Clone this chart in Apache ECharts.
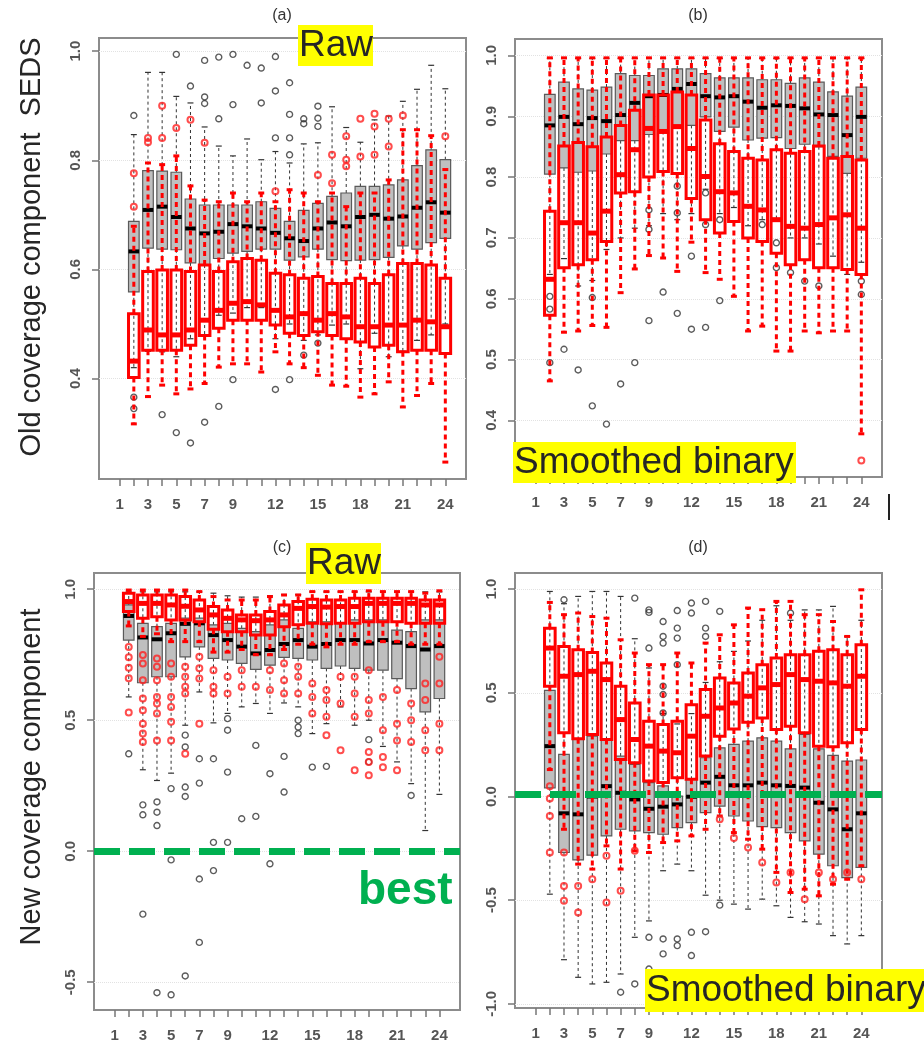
<!DOCTYPE html>
<html>
<head>
<meta charset="utf-8">
<title>Coverage components by lag</title>
<script src="https://cdn.jsdelivr.net/npm/echarts@6/dist/echarts.min.js"></script>
<style>
  html, body { margin: 0; padding: 0; background: #fff; }
  #chart { width: 924px; height: 1047px; }
</style>
</head>
<body>
<div id="chart"></div>
<script>
// lags that have a box (lag 1 is empty in every panel)
const lags = [2, 3, 4, 5, 6, 7, 8, 9, 10, 11, 12, 13, 14, 15, 16, 17, 18, 19, 20, 21, 22, 23, 24];
const xTicks = [1, 2, 3, 4, 5, 6, 7, 8, 9, 10, 11, 12, 13, 14, 15, 16, 17, 18, 19, 20, 21, 22, 23, 24];
const xTickLabels = [1, 3, 5, 7, 9, 12, 15, 18, 21, 24];

// box rows: [lower whisker, Q1, median, Q3, upper whisker]
// (a) old coverage, raw
const aTicks = [0.4, 0.6, 0.8, 1.0];
const aGray = [
  [0.42, 0.559, 0.633, 0.688, 0.847], [0.45, 0.639, 0.709, 0.781, 0.961], [0.449, 0.637, 0.715, 0.780, 0.961],
  [0.44, 0.636, 0.696, 0.778, 0.917], [0.473, 0.612, 0.675, 0.729, 0.905], [0.48, 0.608, 0.666, 0.718, 0.861],
  [0.516, 0.620, 0.669, 0.718, 0.826], [0.52, 0.630, 0.683, 0.718, 0.808], [0.53, 0.633, 0.679, 0.718, 0.839],
  [0.53, 0.637, 0.675, 0.724, 0.801], [0.473, 0.637, 0.667, 0.712, 0.816], [0.50, 0.617, 0.657, 0.688, 0.795],
  [0.47, 0.623, 0.652, 0.708, 0.830], [0.48, 0.637, 0.675, 0.721, 0.832], [0.498, 0.618, 0.686, 0.734, 0.898],
  [0.50, 0.616, 0.679, 0.740, 0.860], [0.418, 0.617, 0.696, 0.752, 0.833], [0.483, 0.618, 0.700, 0.752, 0.874],
  [0.44, 0.622, 0.693, 0.755, 0.881], [0.45, 0.643, 0.697, 0.764, 0.908], [0.47, 0.637, 0.713, 0.790, 0.930],
  [0.48, 0.649, 0.723, 0.819, 0.974], [0.50, 0.657, 0.704, 0.801, 0.931]
];
const aRed = [
  [0.317, 0.402, 0.432, 0.519, 0.679], [0.367, 0.452, 0.489, 0.596, 0.795], [0.388, 0.452, 0.480, 0.599, 0.792],
  [0.372, 0.452, 0.480, 0.599, 0.808], [0.381, 0.461, 0.489, 0.596, 0.753], [0.391, 0.479, 0.507, 0.608, 0.727],
  [0.421, 0.492, 0.525, 0.596, 0.724], [0.427, 0.507, 0.538, 0.614, 0.740], [0.427, 0.507, 0.541, 0.620, 0.724],
  [0.412, 0.507, 0.535, 0.617, 0.740], [0.449, 0.498, 0.525, 0.593, 0.724], [0.427, 0.483, 0.513, 0.590, 0.746],
  [0.420, 0.479, 0.519, 0.584, 0.740], [0.406, 0.486, 0.507, 0.587, 0.724], [0.388, 0.479, 0.519, 0.574, 0.740],
  [0.386, 0.473, 0.513, 0.574, 0.715], [0.366, 0.467, 0.495, 0.584, 0.740], [0.372, 0.458, 0.495, 0.574, 0.740],
  [0.394, 0.461, 0.498, 0.590, 0.764], [0.348, 0.449, 0.498, 0.611, 0.856], [0.369, 0.452, 0.507, 0.611, 0.856],
  [0.391, 0.452, 0.504, 0.608, 0.845], [0.247, 0.446, 0.495, 0.584, 0.783]
];
const aGrayOut = [
  [2, 0.882], [2, 0.366], [2, 0.345], [4, 0.334], [5, 0.994], [5, 0.301], [6, 0.936], [6, 0.282],
  [7, 0.983], [7, 0.916], [7, 0.904], [7, 0.320], [8, 0.989], [8, 0.876], [8, 0.349], [9, 0.994],
  [9, 0.902], [9, 0.398], [10, 0.974], [11, 0.969], [11, 0.905], [12, 0.990], [12, 0.927], [12, 0.841],
  [12, 0.380], [13, 0.942], [13, 0.884], [13, 0.841], [13, 0.810], [13, 0.398], [14, 0.876], [14, 0.867],
  [14, 0.443], [15, 0.899], [15, 0.877], [15, 0.862], [15, 0.465]
];
const aRedOut = [
  [2, 0.776], [2, 0.715], [3, 0.841], [3, 0.833], [4, 0.900], [4, 0.841], [5, 0.859], [6, 0.874],
  [7, 0.832], [12, 0.743], [15, 0.773], [16, 0.810], [16, 0.758], [17, 0.844], [17, 0.801], [17, 0.789],
  [18, 0.876], [18, 0.807], [19, 0.885], [19, 0.862], [19, 0.810], [20, 0.876], [20, 0.825], [21, 0.882],
  [24, 0.844]
];

// (b) old coverage, smoothed binary
const bTicks = [0.4, 0.5, 0.6, 0.7, 0.8, 0.9, 1.0];
const bGray = [
  [0.64, 0.805, 0.885, 0.936, 0.995], [0.666, 0.815, 0.899, 0.956, 0.995], [0.621, 0.808, 0.887, 0.945, 0.995],
  [0.63, 0.81, 0.897, 0.943, 0.995], [0.681, 0.838, 0.892, 0.948, 0.995], [0.70, 0.86, 0.902, 0.970, 0.995],
  [0.716, 0.86, 0.922, 0.967, 0.995], [0.72, 0.87, 0.933, 0.967, 0.995], [0.74, 0.875, 0.935, 0.978, 0.995],
  [0.73, 0.885, 0.945, 0.978, 0.995], [0.74, 0.885, 0.953, 0.978, 0.995], [0.78, 0.899, 0.933, 0.970, 0.995],
  [0.74, 0.875, 0.931, 0.963, 0.995], [0.75, 0.882, 0.933, 0.963, 0.995], [0.72, 0.861, 0.924, 0.963, 0.995],
  [0.73, 0.864, 0.914, 0.960, 0.995], [0.73, 0.865, 0.918, 0.960, 0.995], [0.70, 0.847, 0.917, 0.954, 0.995],
  [0.70, 0.854, 0.913, 0.963, 0.995], [0.69, 0.85, 0.903, 0.956, 0.995], [0.67, 0.834, 0.902, 0.940, 0.995],
  [0.64, 0.806, 0.869, 0.933, 0.995], [0.66, 0.831, 0.899, 0.948, 0.995]
];
const bRed = [
  [0.465, 0.573, 0.632, 0.744, 0.996], [0.545, 0.651, 0.725, 0.851, 0.996], [0.547, 0.656, 0.725, 0.857, 0.996],
  [0.556, 0.664, 0.708, 0.85, 0.996], [0.553, 0.694, 0.744, 0.866, 0.996], [0.61, 0.774, 0.804, 0.885, 0.996],
  [0.649, 0.776, 0.845, 0.910, 0.996], [0.671, 0.80, 0.88, 0.935, 0.996], [0.667, 0.809, 0.875, 0.935, 0.996],
  [0.645, 0.806, 0.883, 0.940, 0.996], [0.693, 0.765, 0.847, 0.935, 0.996], [0.643, 0.73, 0.801, 0.894, 0.996],
  [0.632, 0.708, 0.776, 0.855, 0.996], [0.604, 0.727, 0.774, 0.842, 0.996], [0.547, 0.70, 0.752, 0.831, 0.996],
  [0.555, 0.694, 0.746, 0.828, 0.996], [0.514, 0.675, 0.73, 0.845, 0.996], [0.514, 0.656, 0.719, 0.839, 0.996],
  [0.547, 0.664, 0.716, 0.842, 0.996], [0.544, 0.651, 0.722, 0.851, 0.996], [0.547, 0.651, 0.733, 0.831, 0.996],
  [0.547, 0.648, 0.738, 0.834, 0.996], [0.378, 0.64, 0.716, 0.828, 0.996]
];
const bGrayOut = [
  [2, 0.604], [2, 0.583], [2, 0.495], [3, 0.517], [4, 0.483], [5, 0.602], [5, 0.424], [6, 0.394],
  [7, 0.46], [8, 0.495], [9, 0.746], [9, 0.714], [9, 0.564], [10, 0.611], [11, 0.785], [11, 0.741],
  [11, 0.576], [12, 0.67], [12, 0.55], [13, 0.774], [13, 0.722], [13, 0.553], [14, 0.73], [14, 0.597],
  [17, 0.722], [18, 0.692], [18, 0.651], [19, 0.643], [20, 0.629], [21, 0.621], [24, 0.629], [24, 0.607]
];
const bRedOut = [[24, 0.334]];

// (c) new coverage, raw
const cTicks = [-0.5, 0.0, 0.5, 1.0];
const cGray = [
  [0.589, 0.806, 0.898, 0.94, 0.99], [0.311, 0.643, 0.816, 0.87, 0.99], [0.27, 0.666, 0.809, 0.857, 0.99],
  [0.298, 0.666, 0.832, 0.87, 0.99], [0.481, 0.742, 0.868, 0.89, 0.99], [0.608, 0.78, 0.87, 0.89, 0.99],
  [0.49, 0.736, 0.825, 0.864, 0.985], [0.526, 0.73, 0.806, 0.87, 0.975], [0.551, 0.717, 0.781, 0.851, 0.97],
  [0.564, 0.694, 0.755, 0.838, 0.97], [0.526, 0.71, 0.768, 0.864, 0.975], [0.566, 0.74, 0.791, 0.883, 0.98],
  [0.551, 0.736, 0.806, 0.851, 0.98], [0.449, 0.73, 0.781, 0.876, 0.99], [0.487, 0.698, 0.791, 0.876, 0.99],
  [0.551, 0.707, 0.806, 0.87, 0.99], [0.481, 0.698, 0.806, 0.883, 0.99], [0.50, 0.691, 0.793, 0.883, 0.99],
  [0.40, 0.691, 0.806, 0.883, 0.99], [0.341, 0.659, 0.796, 0.844, 0.99], [0.258, 0.621, 0.783, 0.838, 0.99],
  [0.079, 0.532, 0.770, 0.883, 0.99], [0.217, 0.583, 0.783, 0.883, 0.99]
];
const cRed = [
  [0.86, 0.915, 0.953, 0.985, 0.997], [0.82, 0.889, 0.946, 0.978, 0.997], [0.83, 0.895, 0.946, 0.978, 0.997],
  [0.80, 0.883, 0.94, 0.978, 0.997], [0.80, 0.883, 0.935, 0.972, 0.997], [0.80, 0.876, 0.921, 0.959, 0.991],
  [0.76, 0.847, 0.902, 0.934, 0.972], [0.76, 0.838, 0.889, 0.921, 0.959], [0.77, 0.838, 0.883, 0.902, 0.959],
  [0.75, 0.825, 0.880, 0.902, 0.959], [0.75, 0.825, 0.883, 0.915, 0.972], [0.77, 0.857, 0.902, 0.94, 0.978],
  [0.79, 0.864, 0.927, 0.953, 0.978], [0.79, 0.870, 0.934, 0.962, 0.991], [0.78, 0.868, 0.932, 0.959, 0.991],
  [0.79, 0.870, 0.934, 0.959, 0.991], [0.79, 0.870, 0.934, 0.966, 0.991], [0.80, 0.876, 0.946, 0.966, 0.994],
  [0.80, 0.876, 0.946, 0.966, 0.991], [0.80, 0.876, 0.946, 0.966, 0.991], [0.79, 0.870, 0.946, 0.966, 0.991],
  [0.79, 0.870, 0.940, 0.959, 0.985], [0.79, 0.870, 0.940, 0.959, 0.994]
];
const cGrayOut = [
  [2, 0.372], [3, 0.177], [3, 0.139], [3, -0.240], [4, 0.188], [4, 0.149], [4, 0.098], [4, -0.540],
  [5, 0.239], [5, -0.033], [5, -0.548], [6, 0.443], [6, 0.398], [6, 0.245], [6, 0.209], [6, -0.476],
  [7, 0.353], [7, 0.260], [7, -0.106], [7, -0.348], [8, 0.353], [8, 0.034], [8, -0.074], [9, 0.506],
  [9, 0.462], [9, 0.302], [9, 0.034], [10, 0.124], [11, 0.404], [11, 0.133], [12, 0.296], [12, -0.048],
  [13, 0.362], [13, 0.226], [14, 0.5], [14, 0.474], [14, 0.449], [15, 0.321], [16, 0.324], [19, 0.426],
  [19, 0.341], [22, 0.213]
];
const cRedOut = [
  [2, 0.78], [2, 0.74], [2, 0.70], [2, 0.66], [2, 0.53], [3, 0.749], [3, 0.717], [3, 0.653], [3, 0.583],
  [3, 0.538], [3, 0.487], [3, 0.449], [3, 0.417], [4, 0.736], [4, 0.704], [4, 0.653], [4, 0.589], [4, 0.564],
  [4, 0.526], [4, 0.423], [5, 0.717], [5, 0.666], [5, 0.589], [5, 0.551], [5, 0.494], [5, 0.423], [6, 0.704],
  [6, 0.666], [6, 0.628], [6, 0.602], [6, 0.372], [7, 0.742], [7, 0.698], [7, 0.659], [7, 0.487], [8, 0.691],
  [8, 0.628], [8, 0.602], [9, 0.666], [9, 0.602], [10, 0.691], [10, 0.628], [11, 0.628], [12, 0.691],
  [12, 0.615], [13, 0.717], [13, 0.653], [13, 0.602], [14, 0.704], [14, 0.666], [14, 0.602], [15, 0.640],
  [15, 0.589], [15, 0.526], [16, 0.615], [16, 0.577], [16, 0.513], [16, 0.443], [17, 0.666], [17, 0.564],
  [17, 0.385], [18, 0.666], [18, 0.602], [18, 0.513], [18, 0.309], [19, 0.691], [19, 0.577], [19, 0.526],
  [19, 0.379], [19, 0.341], [19, 0.290], [20, 0.589], [20, 0.462], [20, 0.360], [20, 0.321], [21, 0.615],
  [21, 0.487], [21, 0.423], [21, 0.309], [22, 0.564], [22, 0.5], [22, 0.417], [23, 0.640], [23, 0.577],
  [23, 0.462], [23, 0.385], [24, 0.742], [24, 0.640], [24, 0.487], [24, 0.385]
];
const cBest = 0.0;

// (d) new coverage, smoothed binary
const dTicks = [-1.0, -0.5, 0.0, 0.5, 1.0];
const dGray = [
  [-0.471, 0.042, 0.243, 0.512, 0.989], [-0.787, -0.270, -0.081, 0.203, 0.93], [-0.872, -0.306, -0.086, 0.275, 0.965],
  [-0.904, -0.283, 0.0, 0.291, 0.989], [-0.896, -0.190, 0.050, 0.275, 0.989], [-0.856, -0.158, 0.018, 0.195, 0.965],
  [-0.679, -0.166, -0.014, 0.155, 0.761], [-0.60, -0.174, -0.059, 0.067, 0.62], [-0.358, -0.182, -0.049, 0.051, 0.40],
  [-0.326, -0.150, -0.038, 0.002, 0.35], [-0.358, -0.126, -0.001, 0.083, 0.40], [-0.476, -0.078, 0.067, 0.187, 0.55],
  [-0.50, -0.046, 0.095, 0.235, 0.65], [-0.519, -0.094, 0.054, 0.251, 0.70], [-0.543, -0.118, 0.054, 0.267, 0.75],
  [-0.495, -0.145, 0.067, 0.283, 0.85], [-0.527, -0.150, 0.054, 0.267, 0.92], [-0.583, -0.174, 0.051, 0.230, 0.85],
  [-0.604, -0.214, 0.043, 0.299, 0.90], [-0.615, -0.278, -0.030, 0.230, 0.90], [-0.671, -0.334, -0.062, 0.198, 0.917],
  [-0.711, -0.391, -0.158, 0.171, 0.772], [-0.671, -0.342, -0.081, 0.176, 0.85]
];
const dRed = [
  [0.13, 0.532, 0.716, 0.812, 0.936], [-0.158, 0.307, 0.580, 0.724, 0.877], [-0.326, 0.278, 0.588, 0.708, 0.885],
  [-0.35, 0.299, 0.604, 0.695, 0.868], [-0.238, 0.275, 0.564, 0.644, 0.860], [-0.35, 0.179, 0.371, 0.532, 0.756],
  [-0.262, 0.163, 0.275, 0.451, 0.692], [-0.270, 0.075, 0.243, 0.363, 0.636], [-0.222, 0.067, 0.219, 0.347, 0.636],
  [-0.214, 0.091, 0.211, 0.363, 0.692], [-0.19, 0.083, 0.291, 0.443, 0.644], [-0.158, 0.195, 0.387, 0.516, 0.740],
  [-0.094, 0.291, 0.427, 0.572, 0.780], [-0.174, 0.326, 0.451, 0.548, 0.828], [-0.206, 0.358, 0.484, 0.596, 0.909],
  [-0.254, 0.379, 0.524, 0.636, 0.901], [-0.366, 0.323, 0.540, 0.668, 0.941], [-0.463, 0.339, 0.588, 0.684, 0.941],
  [-0.447, 0.307, 0.564, 0.684, 0.877], [-0.479, 0.243, 0.556, 0.700, 0.877], [-0.423, 0.240, 0.548, 0.708, 0.844],
  [-0.399, 0.259, 0.532, 0.684, 0.772], [-0.334, 0.323, 0.580, 0.732, 0.997]
];
const dGrayOut = [
  [3, 0.949], [7, -0.944], [8, 0.957], [8, -0.904], [9, 0.9], [9, 0.888], [9, 0.716], [9, -0.679],
  [9, -0.832], [10, 0.844], [10, 0.772], [10, 0.740], [10, 0.532], [10, 0.492], [10, 0.403], [10, -0.687],
  [10, -0.759], [11, 0.897], [11, 0.812], [11, 0.764], [11, 0.636], [11, -0.687], [11, -0.719], [12, 0.933],
  [12, 0.885], [12, -0.655], [12, -0.767], [13, 0.941], [13, 0.812], [13, 0.772], [13, -0.652], [14, 0.893],
  [14, -0.524], [19, 0.885]
];
const dRedOut = [
  [2, 0.05], [2, -0.01], [2, -0.094], [2, -0.27], [3, -0.27], [3, -0.431], [3, -0.503], [4, -0.431],
  [4, -0.559], [5, -0.399], [6, -0.286], [6, -0.511], [7, -0.455], [8, -0.262], [14, -0.11], [15, -0.20],
  [16, -0.246], [17, -0.318], [18, -0.415], [19, -0.366], [20, -0.495], [21, -0.366], [22, -0.399],
  [23, -0.366], [24, -0.399]
];
const dBest = 0.012;

const BOX_W = 0.75;
const CAP_W = 0.42;

const grayStyle = {
  fill: '#bfbfbf', border: '#5a5a5a', borderWidth: 1.2,
  median: '#000', medianWidth: 4,
  whisker: '#333', whiskerWidth: 1, dash: [3, 3], capWidth: 1.2
};
const redStyle = {
  fill: 'rgba(0,0,0,0)', border: '#ff0000', borderWidth: 3,
  median: '#ff0000', medianWidth: 5,
  whisker: '#ff0000', whiskerWidth: 3, dash: [5, 4], capWidth: 3
};

function boxRenderer(st) {
  return function (params, api) {
    const x = api.value(0);
    const vals = [1, 2, 3, 4, 5].map(d => api.value(d));
    const px = api.coord([x, vals[2]])[0];
    const yy = vals.map(v => api.coord([x, v])[1]);
    const half = api.size([BOX_W, 0])[0] / 2;
    const cap = api.size([CAP_W, 0])[0] / 2;
    const whisk = { stroke: st.whisker, lineWidth: st.whiskerWidth, lineDash: st.dash };
    const capSt = { stroke: st.whisker, lineWidth: st.capWidth };
    return {
      type: 'group',
      children: [
        { type: 'line', shape: { x1: px, y1: yy[3], x2: px, y2: yy[4] }, style: whisk },
        { type: 'line', shape: { x1: px, y1: yy[1], x2: px, y2: yy[0] }, style: whisk },
        { type: 'line', shape: { x1: px - cap, y1: yy[4], x2: px + cap, y2: yy[4] }, style: capSt },
        { type: 'line', shape: { x1: px - cap, y1: yy[0], x2: px + cap, y2: yy[0] }, style: capSt },
        {
          type: 'rect',
          shape: { x: px - half, y: yy[3], width: half * 2, height: yy[1] - yy[3] },
          style: { fill: st.fill, stroke: st.border, lineWidth: st.borderWidth }
        },
        {
          type: 'line',
          shape: { x1: px - half, y1: yy[2], x2: px + half, y2: yy[2] },
          style: { stroke: st.median, lineWidth: st.medianWidth }
        }
      ]
    };
  };
}

const panels = [
  { left: 99, top: 38, width: 367, height: 441, yMin: 0.216, yMax: 1.024, yTicks: aTicks,
    gray: aGray, red: aRed, grayOut: aGrayOut, redOut: aRedOut, best: null },
  { left: 515, top: 39, width: 367, height: 438, yMin: 0.307, yMax: 1.027, yTicks: bTicks,
    gray: bGray, red: bRed, grayOut: bGrayOut, redOut: bRedOut, best: null },
  { left: 94, top: 573, width: 366, height: 437, yMin: -0.606, yMax: 1.062, yTicks: cTicks,
    gray: cGray, red: cRed, grayOut: cGrayOut, redOut: cRedOut, best: cBest },
  { left: 515, top: 573, width: 367, height: 435, yMin: -1.02, yMax: 1.078, yTicks: dTicks,
    gray: dGray, red: dRed, grayOut: dGrayOut, redOut: dRedOut, best: dBest }
];

const labelFont = { color: '#555', fontSize: 15, fontWeight: 'bold', fontFamily: 'Liberation Sans' };

const series = [];
panels.forEach((p, i) => {
  series.push({
    type: 'custom', z: 2,
    xAxisIndex: i, yAxisIndex: i,
    renderItem: boxRenderer(grayStyle),
    encode: { x: 0, y: [1, 2, 3, 4, 5] },
    data: lags.map((l, k) => [l].concat(p.gray[k])),
    markLine: {
      silent: true, z: 1, symbol: ['none', 'none'], label: { show: false },
      lineStyle: { color: '#e2e2e2', type: 'dotted', width: 1 },
      data: p.yTicks.map(v => ({ yAxis: v }))
    }
  });
  series.push({
    type: 'scatter', z: 3, xAxisIndex: i, yAxisIndex: i,
    symbol: 'circle', symbolSize: 6,
    itemStyle: { color: 'rgba(0,0,0,0)', borderColor: '#333', borderWidth: 1.4 },
    data: p.grayOut
  });
  series.push({
    type: 'custom', z: 4,
    xAxisIndex: i, yAxisIndex: i,
    renderItem: boxRenderer(redStyle),
    encode: { x: 0, y: [1, 2, 3, 4, 5] },
    data: lags.map((l, k) => [l].concat(p.red[k]))
  });
  series.push({
    type: 'scatter', z: 5, xAxisIndex: i, yAxisIndex: i,
    symbol: 'circle', symbolSize: 6,
    itemStyle: { color: 'rgba(0,0,0,0)', borderColor: '#ff2020', borderWidth: 2 },
    data: p.redOut
  });
  if (p.best !== null) {
    series.push({
      type: 'line', z: 20, xAxisIndex: i, yAxisIndex: i, data: [],
      markLine: {
        silent: true, z: 20, symbol: ['none', 'none'], label: { show: false },
        lineStyle: { color: '#00b050', width: 7, type: [26, 9] },
        data: [{ yAxis: p.best }]
      }
    });
  }
});

function yellowLabel(x, y, w, h, text) {
  return [
    { type: 'rect', z: 30, shape: { x: x, y: y, width: w, height: h }, style: { fill: '#ffff00' } },
    {
      type: 'text', z: 31, x: x + 1, y: y + h / 2,
      style: { text: text, font: '37px "Liberation Sans"', fill: '#262626', align: 'left', verticalAlign: 'middle' }
    }
  ];
}

function panelTitle(x, y, text) {
  return {
    type: 'text', x: x, y: y,
    style: { text: text, font: '16px "Liberation Sans"', fill: '#333', align: 'center', verticalAlign: 'middle' }
  };
}

const graphics = [
  panelTitle(282, 16, '(a)'),
  panelTitle(698, 16, '(b)'),
  panelTitle(282, 548, '(c)'),
  panelTitle(698, 548, '(d)'),
  {
    type: 'text', x: 32, y: 247, rotation: Math.PI / 2,
    style: { text: 'Old coverage component  SEDS', font: '29px "Liberation Sans"', fill: '#262626', align: 'center', verticalAlign: 'middle' }
  },
  {
    type: 'text', x: 32, y: 777, rotation: Math.PI / 2,
    style: { text: 'New coverage component', font: '29px "Liberation Sans"', fill: '#262626', align: 'center', verticalAlign: 'middle' }
  },
  ...yellowLabel(298, 25, 75, 41, 'Raw'),
  ...yellowLabel(513, 442, 283, 41, 'Smoothed binary'),
  ...yellowLabel(306, 543, 75, 41, 'Raw'),
  ...yellowLabel(645, 969, 285, 43, 'Smoothed binary'),
  {
    type: 'text', z: 30, x: 358, y: 891,
    style: { text: 'best', font: 'bold 46px "Liberation Sans"', fill: '#00b050', align: 'left', verticalAlign: 'middle' }
  },
  { type: 'rect', shape: { x: 888, y: 494, width: 2, height: 26 }, style: { fill: '#222' } }
];

const chart = echarts.init(document.getElementById('chart'), null, { renderer: 'canvas' });
chart.setOption({
  animation: false,
  backgroundColor: '#fff',
  grid: panels.map(p => ({
    left: p.left, top: p.top, width: p.width, height: p.height,
    show: true, borderColor: '#8c8c8c', borderWidth: 2, backgroundColor: 'rgba(0,0,0,0)'
  })),
  xAxis: panels.map((p, i) => ({
    gridIndex: i, type: 'value', min: -0.46, max: 25.46,
    axisLine: { show: false, onZero: false },
    axisTick: { show: true, customValues: xTicks, length: 7, lineStyle: { color: '#777', width: 1.5 } },
    axisLabel: Object.assign({ customValues: xTickLabels, margin: 18 }, labelFont),
    splitLine: { show: false }
  })),
  yAxis: panels.map((p, i) => ({
    gridIndex: i, type: 'value', min: p.yMin, max: p.yMax,
    axisLine: { show: false, onZero: false },
    axisTick: { show: true, customValues: p.yTicks, length: 7, lineStyle: { color: '#777', width: 1.5 } },
    axisLabel: Object.assign({
      customValues: p.yTicks, rotate: 90, margin: 16,
      formatter: v => v.toFixed(1)
    }, labelFont),
    splitLine: { show: false }
  })),
  series: series,
  graphic: graphics
});
</script>
</body>
</html>
